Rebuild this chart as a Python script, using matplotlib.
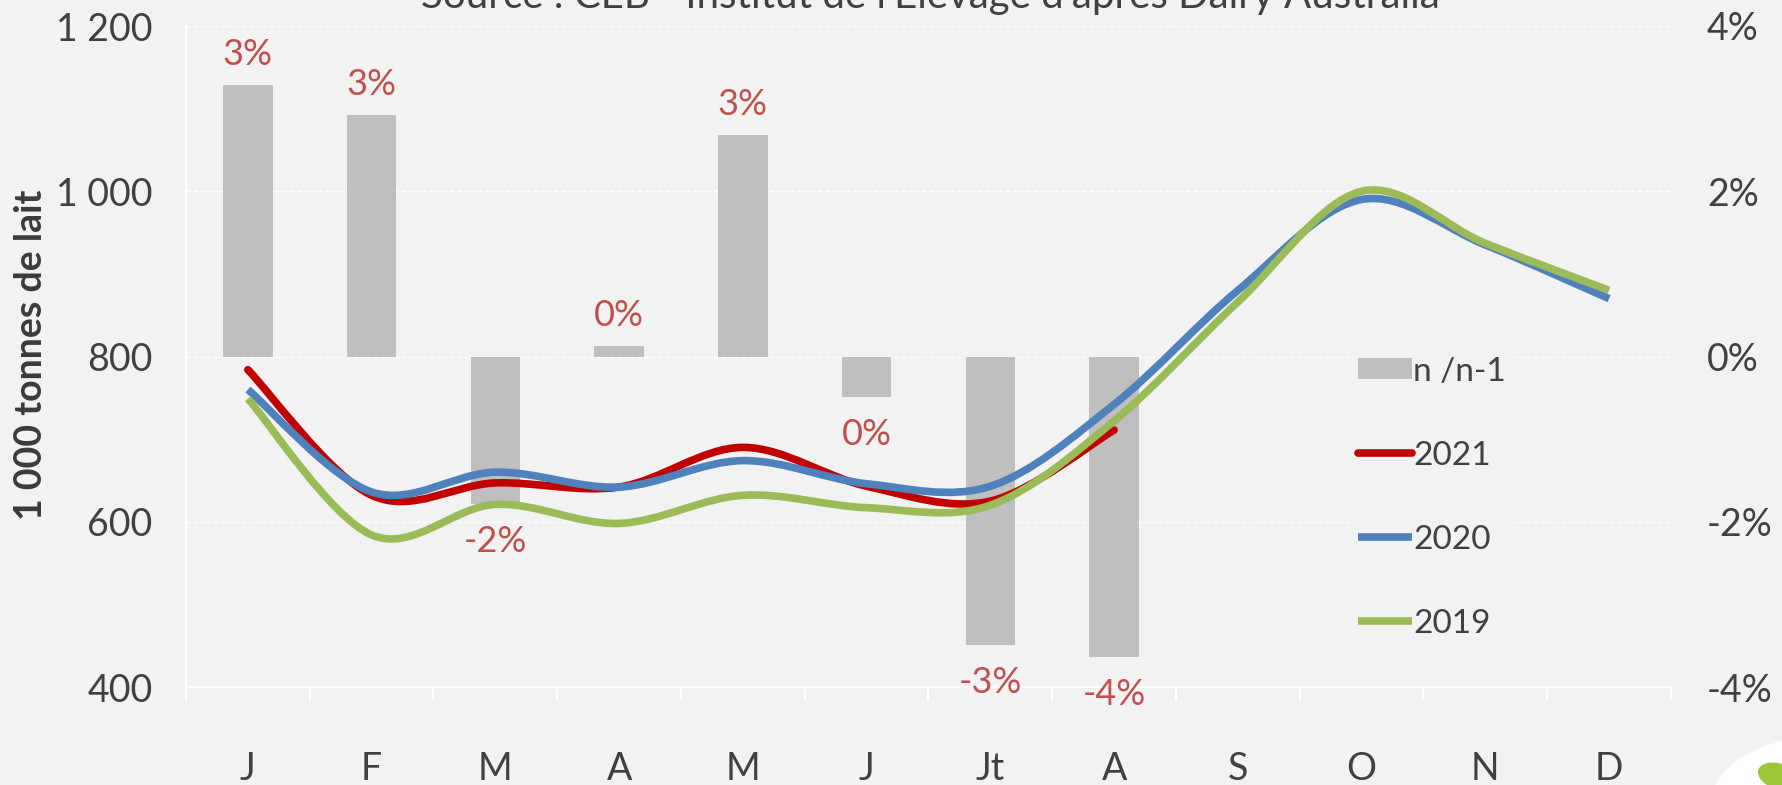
import numpy as np
import matplotlib
matplotlib.use("Agg")
import matplotlib.pyplot as plt
from matplotlib.path import Path
from matplotlib.patches import PathPatch, Patch, Ellipse
from matplotlib.lines import Line2D

plt.rcParams['font.family'] = ['Lato', 'DejaVu Sans']

months = ['J', 'F', 'M', 'A', 'M', 'J', 'Jt', 'A', 'S', 'O', 'N', 'D']

# variation n/n-1 (%), Jan-Aug
evol = [3.29, 2.92, -1.79, 0.13, 2.68, -0.49, -3.49, -3.64]

# collecte mensuelle (1 000 t)
prod_2021 = [784, 632, 647, 642, 690, 643, 625, 711]
prod_2020 = [760, 636, 660, 642, 674, 646, 643, 742, 880, 990, 935, 870]
prod_2019 = [749, 584, 621, 598, 632, 617, 620, 722, 866, 1000, 937, 880]

BG = '#F2F2F2'
TXT = '#404040'
RED_LBL = '#C0504D'


def smooth_path(xs, ys):
    # courbe lissée façon Excel (bezier cubique passant par les points)
    pts = np.column_stack([xs, ys]).astype(float)
    n = len(pts)
    verts = [pts[0]]
    codes = [Path.MOVETO]
    for i in range(n - 1):
        p0 = pts[max(i - 1, 0)]
        p1 = pts[i]
        p2 = pts[i + 1]
        p3 = pts[min(i + 2, n - 1)]
        verts += [p1 + (p2 - p0) / 6, p2 - (p3 - p1) / 6, p2]
        codes += [Path.CURVE4] * 3
    return Path(verts, codes)


fig = plt.figure(figsize=(17.83, 7.85), dpi=100, facecolor=BG)
ax = fig.add_axes([186 / 1783, 1 - 687 / 785, 1485 / 1783, 661 / 785])
ax.set_facecolor(BG)

# barres : axe secondaire (%)
x_bar = np.arange(len(evol))
ax.bar(x_bar, evol, width=0.4, color='#BFBFBF', zorder=2)
for xi, v in zip(x_bar, evol):
    off = 22 if v >= 0 else -27
    ax.annotate(f"{int(round(v))}%", (xi, v), xytext=(0, off),
                textcoords='offset points', ha='center', va='center',
                fontsize=26, color=RED_LBL)

ax.set_ylim(-4, 4)
ax.set_xlim(-0.5, len(months) - 0.5)
ax.grid(axis='y', color='white', linestyle=(0, (3, 2)), linewidth=1)
ax.set_axisbelow(True)

ax.set_xticks(np.arange(len(months)))
ax.set_xticklabels(months)
ax.set_xticks(np.arange(len(months) + 1) - 0.5, minor=True)
ax.tick_params(axis='x', which='major', length=0, pad=46, labelsize=27,
               labelcolor=TXT)
ax.tick_params(axis='x', which='minor', length=9.5, width=1.5, color='white')

for side in ['top', 'right']:
    ax.spines[side].set_visible(False)
for side in ['left', 'bottom']:
    ax.spines[side].set_color('white')
    ax.spines[side].set_linewidth(1.5)

# courbes : axe principal (1 000 t)
ax2 = ax.twinx()

ax.yaxis.tick_right()
ax.set_yticks([-4, -2, 0, 2, 4])
ax.set_yticklabels(['-4%', '-2%', '0%', '2%', '4%'])
ax.tick_params(axis='y', length=0, pad=26, labelsize=27, labelcolor=TXT)

ax2.set_ylim(400, 1200)
ax2.yaxis.tick_left()
ax2.set_yticks([400, 600, 800, 1000, 1200])
ax2.set_yticklabels(['400', '600', '800', '1 000', '1 200'])
ax2.tick_params(axis='y', length=0, pad=24, labelsize=27, labelcolor=TXT)
for s in ax2.spines.values():
    s.set_visible(False)

fig.text(31 / 1783, 1 - 355 / 785, '1 000 tonnes de lait', rotation=90,
         ha='center', va='center', fontsize=27, fontweight='bold',
         color='#3A3A3A')

series = [(prod_2021, '#C00000', 'round', '2021'),
          (prod_2020, '#4F81BD', 'butt', '2020'),
          (prod_2019, '#9BBB59', 'butt', '2019')]
handles = [Patch(facecolor='#BFBFBF', label='n /n-1')]
for vals, col, cap, lab in series:
    path = smooth_path(np.arange(len(vals)), vals)
    ax2.add_patch(PathPatch(path, facecolor='none', edgecolor=col,
                            linewidth=5.5, capstyle=cap, joinstyle='round'))
    handles.append(Line2D([], [], color=col, linewidth=5.5,
                          solid_capstyle=cap, label=lab))

leg = ax2.legend(handles=handles, loc='upper left',
                 bbox_to_anchor=(0.785, 0.51), fontsize=24, frameon=True,
                 facecolor=BG, edgecolor='none', framealpha=1,
                 handlelength=1.6, handleheight=0.6, handletextpad=0.05,
                 labelspacing=1.62, borderpad=0.2, borderaxespad=0)
for t in leg.get_texts():
    t.set_color(TXT)

# source (coupée en haut)
fig.text(930 / 1783, 1 - 8 / 785,
         "Source : CEB - Institut de l'Elevage d'après Dairy Australia",
         ha='center', va='baseline', fontsize=29, color=TXT)

# coin du logo
fig.add_artist(Ellipse((1830 / 1783, -20 / 785), 240 / 1783, 140 / 785,
                       transform=fig.transFigure, facecolor='white',
                       edgecolor='none'))
fig.add_artist(Ellipse((1780 / 1783, 8 / 785), 40 / 1783, 30 / 785, angle=20,
                       transform=fig.transFigure, facecolor='#9DC63A',
                       edgecolor='none'))

fig.savefig('out.png', dpi=100, facecolor=BG)
